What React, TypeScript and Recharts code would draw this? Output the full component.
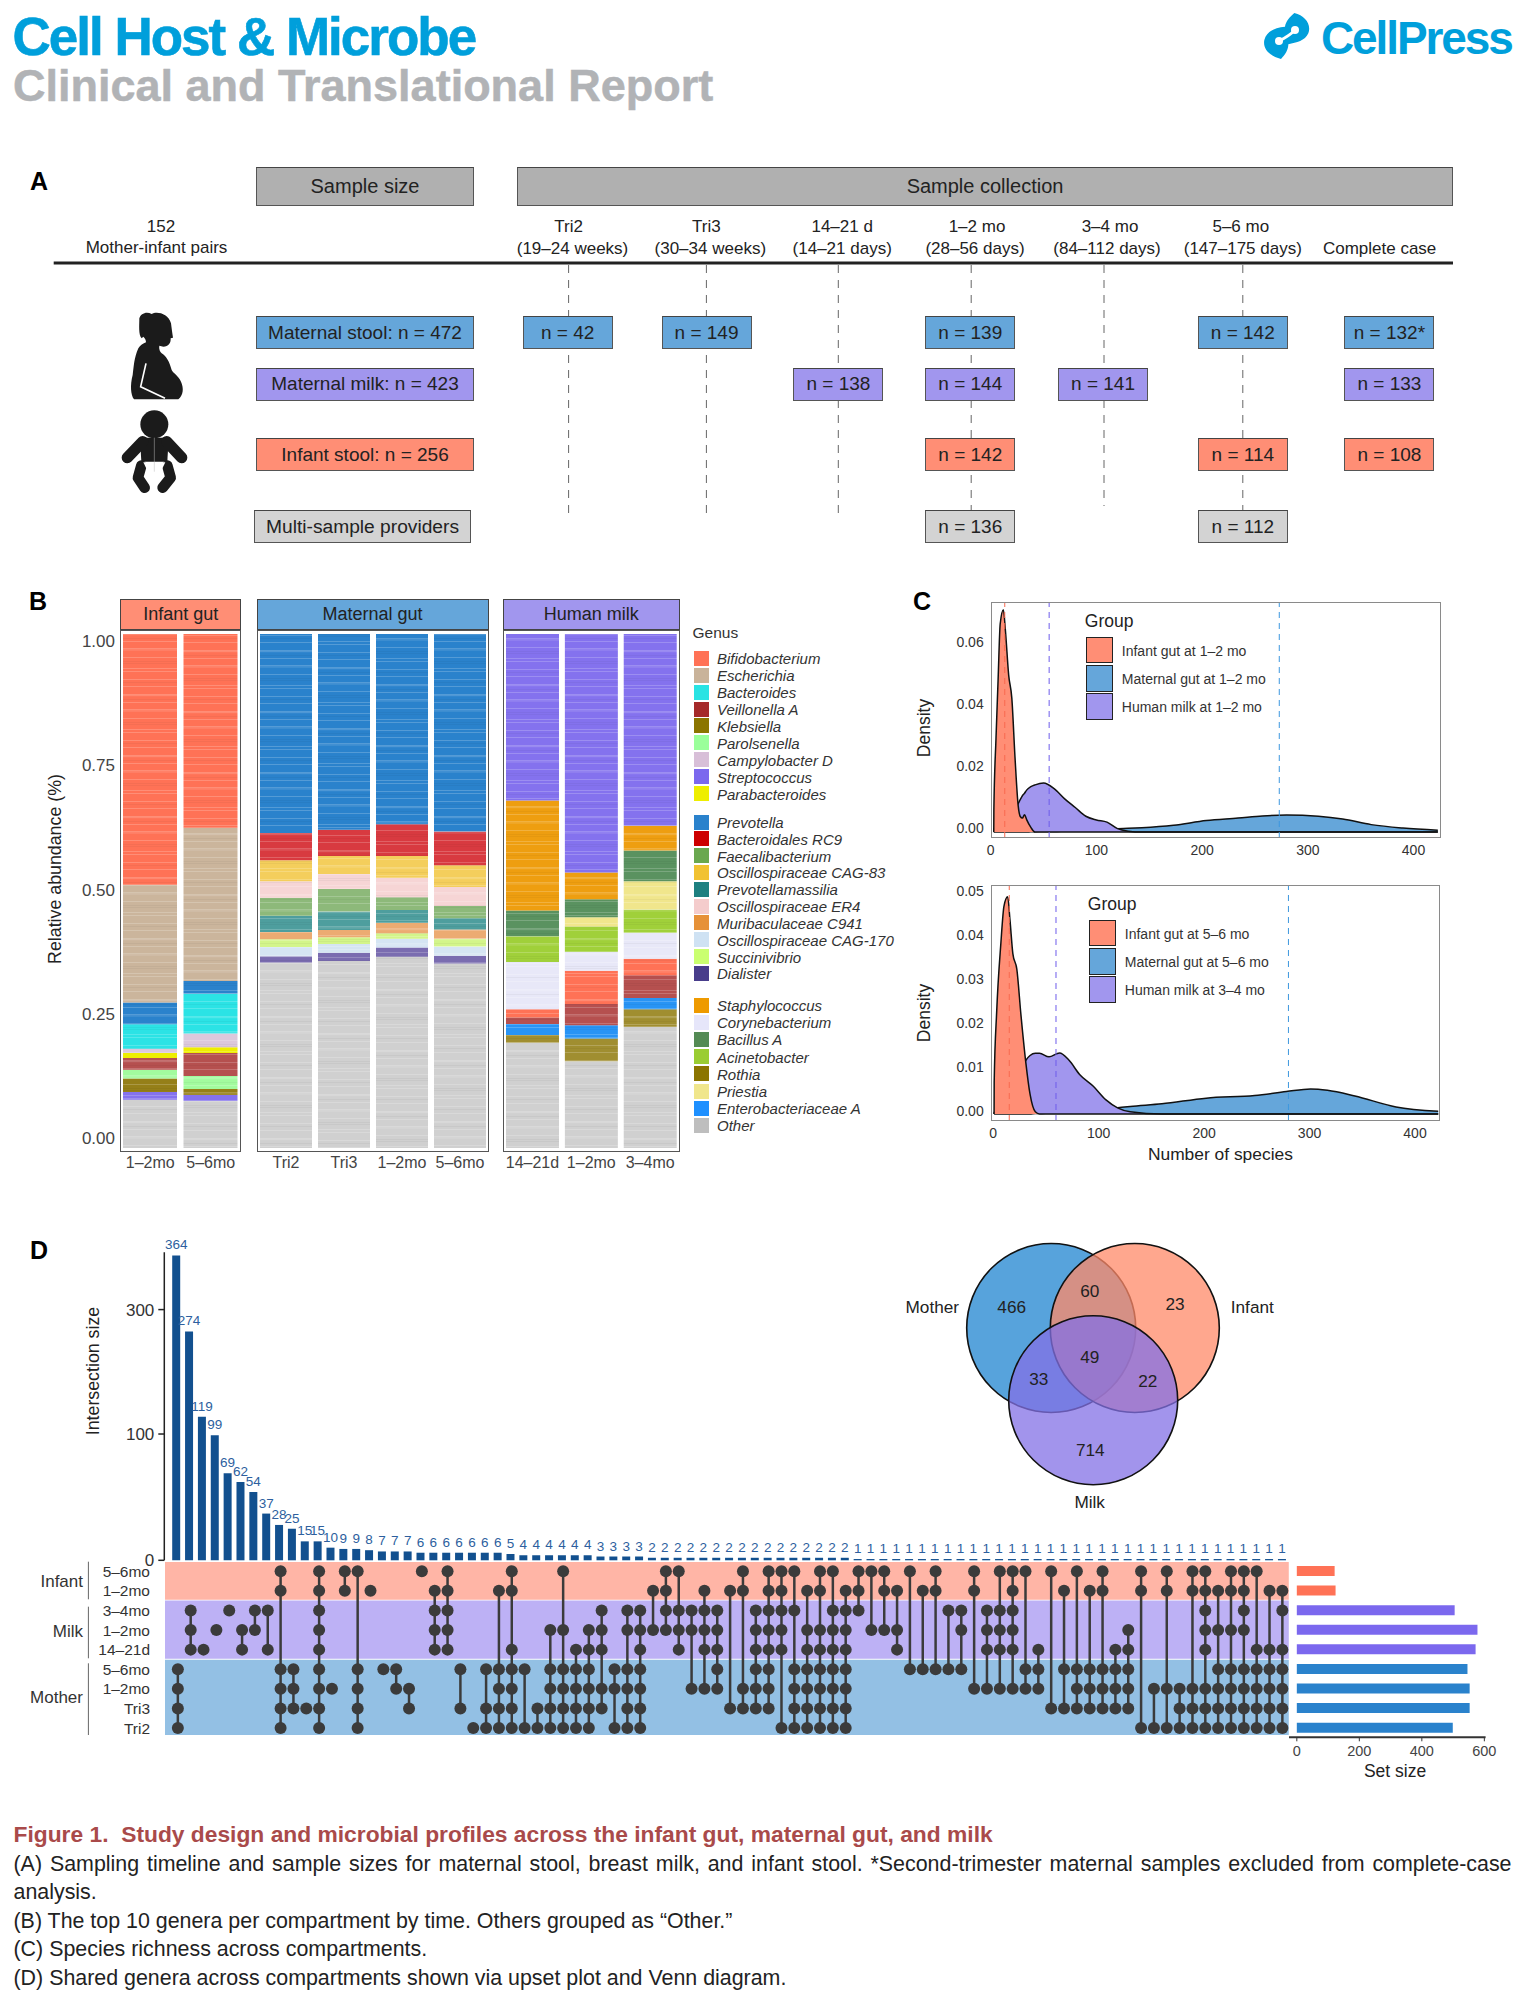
import React from "react";
import {
  Area,
  Bar,
  BarChart,
  Cell,
  ComposedChart,
  LabelList,
  Line,
  LineChart,
  ReferenceArea,
  ReferenceLine,
  Scatter,
  ScatterChart,
  XAxis,
  YAxis,
} from "recharts";

const FONT = '"Liberation Sans", Arial, sans-serif';
const CORAL = "#FF8E75";
const BLUE = "#65A6DA";
const PURPLE = "#A196EE";
const GREY_BOX = "#D3D3D3";
const HEAD_GREY = "#B0B0B0";

/* ---------- panel A ---------- */
const timeHeads = ["Tri2", "Tri3", "14–21 d", "1–2 mo", "3–4 mo", "5–6 mo"];
const timeRanges = ["(19–24 weeks)", "(30–34 weeks)", "(14–21 days)", "(28–56 days)", "(84–112 days)", "(147–175 days)"];
const leftBoxes = ["Maternal stool: n = 472", "Maternal milk: n = 423", "Infant stool: n = 256", "Multi-sample providers"];
const stoolCells = ["n = 42", "n = 149", "", "n = 139", "", "n = 142", "n = 132*"];
const milkCells = ["", "", "n = 138", "n = 144", "n = 141", "", "n = 133"];
const infantCells = ["", "", "", "n = 142", "", "n = 114", "n = 108"];
const multiCells = ["", "", "", "n = 136", "", "n = 112", ""];

/* ---------- panel B ---------- */
const genusNames = [
  "Bifidobacterium", "Escherichia", "Bacteroides", "Veillonella A", "Klebsiella", "Parolsenella", "Campylobacter D", "Streptococcus", "Parabacteroides",
  "Prevotella", "Bacteroidales RC9", "Faecalibacterium", "Oscillospiraceae CAG-83", "Prevotellamassilia", "Oscillospiraceae ER4", "Muribaculaceae C941", "Oscillospiraceae CAG-170", "Succinivibrio", "Dialister",
  "Staphylococcus", "Corynebacterium", "Bacillus A", "Acinetobacter", "Rothia", "Priestia", "Enterobacteriaceae A", "Other",
];
const genusLegendColors = [
  "#FF7256", "#C9B39A", "#29E3E3", "#A52A2A", "#8B7500", "#9AFF9A", "#D8BFD8", "#7B68EE", "#EEEE00",
  "#2A82CC", "#CD0000", "#6AA84F", "#F1C232", "#1E8080", "#F4CCCC", "#E69138", "#CFE2F3", "#CAFF70", "#483D8B",
  "#EE9A00", "#E6E6FA", "#548B54", "#9ACD32", "#8B7500", "#F0E68C", "#1E90FF", "#BEBEBE",
];
const genusBarColors = [
  "#FF7256", "#CBB59C", "#2BE3E5", "#B5504F", "#957F18", "#A2FB9E", "#DCC8DC", "#8472EE", "#EEEE00",
  "#2A82CC", "#D83A40", "#8DB97A", "#F4CE5C", "#4E9E9E", "#F6D5D5", "#ECAB72", "#D5E5F3", "#D3F58A", "#7A6CB0",
  "#EE9E10", "#E8E8F8", "#5A9260", "#A0D03A", "#A08E30", "#F0E68C", "#2894F5", "#D0D0D0",
];

const infantCats = ["1–2mo", "5–6mo"];
const infantOrder = ["Bifidobacterium", "Escherichia", "Prevotella", "Bacteroides", "Campylobacter D", "Parabacteroides", "Veillonella A", "Parolsenella", "Klebsiella", "Streptococcus", "Other"];
const infantCols = [
  [0.488, 0.229, 0.042, 0.048, 0.008, 0.01, 0.023, 0.017, 0.026, 0.015, 0.094],
  [0.377, 0.298, 0.025, 0.077, 0.027, 0.011, 0.045, 0.025, 0.012, 0.011, 0.092],
];

const maternalCats = ["Tri2", "Tri3", "1–2mo", "5–6mo"];
const maternalOrder = ["Prevotella", "Bacteroidales RC9", "Oscillospiraceae CAG-83", "Oscillospiraceae ER4", "Faecalibacterium", "Prevotellamassilia", "Muribaculaceae C941", "Succinivibrio", "Oscillospiraceae CAG-170", "Dialister", "Other"];
const maternalCols = [
  [0.387, 0.053, 0.041, 0.032, 0.035, 0.032, 0.014, 0.015, 0.018, 0.012, 0.361],
  [0.381, 0.051, 0.035, 0.029, 0.044, 0.036, 0.014, 0.013, 0.017, 0.016, 0.364],
  [0.37, 0.062, 0.042, 0.038, 0.025, 0.025, 0.02, 0.011, 0.017, 0.018, 0.372],
  [0.384, 0.066, 0.042, 0.037, 0.024, 0.022, 0.018, 0.015, 0.018, 0.015, 0.359],
];

const milkCats = ["14–21d", "1–2mo", "3–4mo"];
const milkOrder = ["Streptococcus", "Staphylococcus", "Bacillus A", "Priestia", "Acinetobacter", "Corynebacterium", "Bifidobacterium", "Veillonella A", "Enterobacteriaceae A", "Rothia", "Other"];
const milkCols = [
  [0.324, 0.214, 0.05, 0, 0.05, 0.092, 0.016, 0.013, 0.021, 0.015, 0.205],
  [0.464, 0.052, 0.035, 0.018, 0.049, 0.037, 0.065, 0.041, 0.026, 0.044, 0.169],
  [0.373, 0.048, 0.06, 0.055, 0.045, 0.051, 0.032, 0.044, 0.022, 0.034, 0.236],
];

const abundanceTicks = [0, 0.25, 0.5, 0.75, 1];
const abundanceAxisRows = [{ v: 0 }, { v: 1 }];
const streakLight = [3, 4.4, 11, 18, 19.6, 27, 38, 41, 49, 56];
const streakDark = [8, 31, 33, 52];

/* ---------- panel C ---------- */
const speciesTop = [2.9, 3, 5, 7, 9, 12, 14, 17, 20, 23, 26, 28, 30, 32, 34, 38, 42, 50, 60, 70, 80, 90, 100, 110, 120, 130, 143, 173, 204, 234, 257, 280, 310, 333, 360, 390, 423];
const infantDensityTop = [0, 0.0072, 0.03, 0.049, 0.067, 0.0715, 0.0645, 0.0505, 0.043, 0.024, 0.0085, 0.005, 0.0045, 0.0056, 0.004, 0.0015, 0, 0, 0, 0, 0, 0, 0, 0, 0, 0, 0, 0, 0, 0, 0, 0, 0, 0, 0, 0, 0];
const milkDensityTop = [0, 0.0005, 0.001, 0.0015, 0.002, 0.003, 0.004, 0.005, 0.0065, 0.008, 0.0092, 0.0105, 0.0117, 0.0125, 0.0135, 0.0146, 0.0152, 0.0158, 0.014, 0.0107, 0.0079, 0.0051, 0.0039, 0.0032, 0.0011, 0.0003, 0, 0, 0, 0, 0, 0, 0, 0, 0, 0, 0];
const maternalDensityTop = [0, 0, 0, 0, 0, 0, 0, 0, 0, 0, 0, 0, 0, 0, 0, 0.0001, 0.0001, 0.0002, 0.0002, 0.0003, 0.0004, 0.0005, 0.0007, 0.0009, 0.0011, 0.0012, 0.0014, 0.0022, 0.0037, 0.0045, 0.0052, 0.0055, 0.0051, 0.0042, 0.0024, 0.0013, 0.0006];
const mediansTop = [13.3, 55.3, 273];

const speciesBottom = [0.9, 1, 3.4, 7.3, 10.3, 13.8, 16, 18.7, 22.5, 26.4, 31, 35, 40, 44, 53, 63, 72, 82, 95, 107, 118, 130, 160, 202, 248, 278, 301, 317, 343, 382, 422];
const infantDensityBottom = [0, 0.0072, 0.0234, 0.0387, 0.0473, 0.0494, 0.0441, 0.0365, 0.0329, 0.0225, 0.0117, 0.0045, 0.0005, 0, 0, 0, 0, 0, 0, 0, 0, 0, 0, 0, 0, 0, 0, 0, 0, 0, 0];
const milkDensityBottom = [0, 0.0003, 0.001, 0.002, 0.003, 0.004, 0.005, 0.006, 0.0075, 0.0095, 0.0122, 0.0133, 0.0138, 0.0138, 0.013, 0.0139, 0.0122, 0.009, 0.0063, 0.0032, 0.0014, 0.0005, 0, 0, 0, 0, 0, 0, 0, 0, 0];
const maternalDensityBottom = [0, 0, 0, 0, 0, 0, 0, 0, 0, 0, 0, 0, 0.0001, 0.0001, 0.0002, 0.0003, 0.0004, 0.0005, 0.0007, 0.001, 0.0014, 0.0017, 0.0023, 0.0036, 0.0042, 0.0051, 0.0057, 0.0054, 0.0041, 0.0016, 0.0006];
const mediansBottom = [15.3, 59.6, 280];

const speciesTicks = [0, 100, 200, 300, 400];
const densityTicksTop = [0, 0.02, 0.04, 0.06];
const densityTicksBottom = [0, 0.01, 0.02, 0.03, 0.04, 0.05];
const groupNamesTop = ["Infant gut at 1–2 mo", "Maternal gut at 1–2 mo", "Human milk at 1–2 mo"];
const groupNamesBottom = ["Infant gut at 5–6 mo", "Maternal gut at 5–6 mo", "Human milk at 3–4 mo"];

/* ---------- panel D ---------- */
const intersectionSizes = [
  364, 274, 119, 99, 69, 62, 54, 37, 28, 25, 15, 15, 10, 9, 9, 8, 7, 7, 7, 6, 6, 6, 6, 6, 6, 6, 5, 4, 4, 4, 4, 4, 4, 3, 3, 3, 3,
  2, 2, 2, 2, 2, 2, 2, 2, 2, 2, 2, 2, 2, 2, 2, 2,
  1, 1, 1, 1, 1, 1, 1, 1, 1, 1, 1, 1, 1, 1, 1, 1, 1, 1, 1, 1, 1, 1, 1, 1, 1, 1, 1, 1, 1, 1, 1, 1, 1, 1,
];
// rows that take part in each intersection, digits count from the top row
const columnRows = [
  "5678", "234", "4", "3", "2", "34", "23", "24", "015678", "567", "7", "012345678", "6", "01", "05678", "1", "5", "56", "67", "0",
  "1234", "01234", "57", "8", "578", "15678", "0145678", "58", "78", "35678", "035678", "45678", "345678", "23467", "568", "235678", "2345678",
  "13", "0123", "0234", "236", "12346", "23456", "17", "0167", "234567", "01234567", "012348", "025678", "1345678", "01345678", "02345678", "12345678",
  "012", "03", "013", "134", "05", "15", "015", "25", "235", "016", "2346", "02346", "012346", "056", "456", "07", "157", "0567", "1567", "01567", "4567", "34567",
  "018", "68", "0168", "678", "01678", "01234678", "135678", "0135678", "01235678", "045678", "145678", "1245678",
];
const rowNames = ["5–6mo", "1–2mo", "3–4mo", "1–2mo", "14–21d", "5–6mo", "1–2mo", "Tri3", "Tri2"];
const setSizes = [121, 124, 505, 578, 572, 546, 553, 553, 499];
const setColors = ["#FF7256", "#FF7256", "#7B68EE", "#7B68EE", "#7B68EE", "#2A82CC", "#2A82CC", "#2A82CC", "#2A82CC"];
const sizeTicks = [0, 200, 400, 600];
// the printed axis is not linear: value to share of axis height
const sizeKnotValues = [0, 100, 119, 274, 300, 364, 368];
const sizeKnotShares = [0, 0.41, 0.466, 0.743, 0.814, 0.99, 1];

const vennCircles = [
  { name: "Mother", x: 1051.2, y: 1328, fill: "#57A3DC", alpha: 1 },
  { name: "Infant", x: 1134.8, y: 1328, fill: "#FF8A68", alpha: 0.75 },
  { name: "Milk", x: 1093.2, y: 1400.3, fill: "#8370E6", alpha: 0.75 },
];
const vennCounts = [
  { text: "466", x: 1011.7, y: 1307.3 },
  { text: "60", x: 1089.7, y: 1290.7 },
  { text: "23", x: 1175, y: 1304 },
  { text: "33", x: 1038.7, y: 1379.3 },
  { text: "49", x: 1089.7, y: 1357 },
  { text: "22", x: 1147.7, y: 1381 },
  { text: "714", x: 1090.3, y: 1449.7 },
  { text: "Mother", x: 932.3, y: 1307.3 },
  { text: "Infant", x: 1252.3, y: 1307.3 },
  { text: "Milk", x: 1089.7, y: 1501.7 },
];

/* ---------- helpers ---------- */
function Txt({ x, y, size = 16, anchor = "middle", color = "#222", weight = 400, italic = false, spacing = 0, rotate = 0, stroke = 0, children }: any) {
  const tx = anchor === "middle" ? "-50%" : anchor === "end" ? "-100%" : "0";
  return (
    <div
      style={{
        position: "absolute",
        left: x,
        top: y,
        fontSize: size,
        color,
        fontWeight: weight,
        fontStyle: italic ? "italic" : "normal",
        letterSpacing: spacing,
        whiteSpace: "nowrap",
        lineHeight: 1,
        WebkitTextStroke: stroke ? `${stroke}px ${color}` : undefined,
        transform: `translate(${tx}, -50%) rotate(${rotate}deg)`,
      }}
    >
      {children}
    </div>
  );
}

function Box({ x, y, w, h, fill, children, size = 19 }: any) {
  return (
    <div
      style={{
        position: "absolute",
        left: x,
        top: y,
        width: w,
        height: h,
        boxSizing: "border-box",
        background: fill,
        border: "1px solid #555",
        borderTop: "1.5px solid #444",
        display: "flex",
        alignItems: "center",
        justifyContent: "center",
        fontSize: size,
        color: "#222",
        whiteSpace: "nowrap",
      }}
    >
      {children}
    </div>
  );
}

function knotScale(knots: number[], shares: number[]) {
  let dom = [0, 1];
  let rng = [0, 1];
  const s: any = (v: number) => {
    let i = 0;
    while (i < knots.length - 2 && v > knots[i + 1]) i++;
    const t = (v - knots[i]) / (knots[i + 1] - knots[i]);
    const share = shares[i] + t * (shares[i + 1] - shares[i]);
    return rng[0] + share * (rng[1] - rng[0]);
  };
  s.domain = (d?: number[]) => {
    if (d) {
      dom = d;
      return s;
    }
    return dom;
  };
  s.range = (r?: number[]) => {
    if (r) {
      rng = r;
      return s;
    }
    return rng;
  };
  s.copy = () => knotScale(knots, shares).domain(dom).range(rng);
  s.ticks = () => knots;
  return s;
}

function StreakPatterns() {
  return (
    <svg style={{ position: "absolute", width: 0, height: 0 }}>
      <defs>
        {genusBarColors.map((color, g) =>
          [0, 1, 2, 3].map((v) => (
            <pattern key={`${g}-${v}`} id={`streak-${g}-${v}`} width={6} height={61} patternUnits="userSpaceOnUse" patternTransform={`translate(0 ${v * 17})`}>
              <rect width={6} height={61} fill={color} />
              {streakLight.map((o) => (
                <rect key={o} y={o} width={6} height={0.7} fill="#fff" opacity={0.28} />
              ))}
              {streakDark.map((o) => (
                <rect key={o} y={o} width={6} height={1} fill="#000" opacity={0.04} />
              ))}
            </pattern>
          ))
        )}
      </defs>
    </svg>
  );
}

function Facet({ title, color, x, w, barW, cats, order, cols }: any) {
  const rows = cats.map((cat: string, i: number) => {
    const row: any = { cat };
    order.forEach((g: string, j: number) => {
      row[g] = cols[i][j];
    });
    return row;
  });
  return (
    <>
      <div style={{ position: "absolute", left: x, top: 599, width: w, height: 31, boxSizing: "border-box", background: color, border: "1.5px solid #444", display: "flex", alignItems: "center", justifyContent: "center", fontSize: 18, color: "#222" }}>
        {title}
      </div>
      <div style={{ position: "absolute", left: x, top: 630 }}>
        <BarChart width={w} height={552} data={rows} margin={{ top: 4, right: 0, left: 0, bottom: 4 }} barSize={barW}>
          <XAxis dataKey="cat" height={30} axisLine={false} tickLine={false} tickSize={0} tickMargin={9} interval={0} tick={{ fill: "#444", fontSize: 16 }} />
          <YAxis hide type="number" domain={[0, 1]} allowDataOverflow />
          {[...order].reverse().map((g: string) => (
            <Bar key={g} dataKey={g} stackId="a" isAnimationActive={false}>
              {rows.map((_: any, i: number) => (
                <Cell key={i} fill={`url(#streak-${genusNames.indexOf(g)}-${(i + Math.round(x)) % 4})`} />
              ))}
            </Bar>
          ))}
        </BarChart>
      </div>
      <div style={{ position: "absolute", left: x, top: 630, width: w, height: 522, boxSizing: "border-box", border: "1.5px solid #555", pointerEvents: "none" }} />
    </>
  );
}

function GenusLegend({ from, to, y, step }: any) {
  return (
    <>
      {genusNames.slice(from, to).map((name, i) => (
        <React.Fragment key={name}>
          <div style={{ position: "absolute", left: 693.6, top: y + i * step - 7.5, width: 15, height: 15, background: genusLegendColors[from + i] }} />
          <Txt x={717} y={y + i * step} size={15} anchor="start" italic color="#333">{name}</Txt>
        </React.Fragment>
      ))}
    </>
  );
}

const densityTick = (shift: number) => (p: any) => (
  <text x={p.x} y={p.y - shift} dy="0.355em" textAnchor="end" fontSize={14} fill="#333">
    {Number(p.payload.value).toFixed(2)}
  </text>
);

function DensityChart({ top, right, xDomain, yDomain, xs, infant, milk, maternal, medians, yTicks, shift }: any) {
  const rows = xs.map((x: number, i: number) => ({ x, infant: infant[i], milk: milk[i], maternal: maternal[i] }));
  const width = right - 920;
  return (
    <>
      <div style={{ position: "absolute", left: 920, top }}>
        <ComposedChart width={width} height={266} data={rows} margin={{ top: 0, right: 0, bottom: 0, left: 0 }}>
          <XAxis dataKey="x" type="number" domain={xDomain} ticks={speciesTicks} allowDataOverflow height={30} axisLine={false} tickLine={false} tickSize={0} tickMargin={7} tick={{ fill: "#333", fontSize: 14 }} />
          <YAxis type="number" domain={yDomain} ticks={yTicks} allowDataOverflow width={70.7} axisLine={false} tickLine={false} tickSize={0} tickMargin={7} interval={0} tick={densityTick(shift)} />
          <Area dataKey="maternal" type="monotone" baseValue={0} fill={BLUE} fillOpacity={1} stroke="#111" strokeWidth={1.5} dot={false} activeDot={false} isAnimationActive={false} />
          <Area dataKey="milk" type="monotone" baseValue={0} fill={PURPLE} fillOpacity={1} stroke="#111" strokeWidth={1.5} dot={false} activeDot={false} isAnimationActive={false} />
          <Area dataKey="infant" type="monotone" baseValue={0} fill={CORAL} fillOpacity={1} stroke="#111" strokeWidth={1.5} dot={false} activeDot={false} isAnimationActive={false} />
          <ReferenceLine x={medians[0]} stroke="#F8694F" strokeDasharray="6 5" strokeWidth={1} />
          <ReferenceLine x={medians[1]} stroke="#6E5CEB" strokeDasharray="6 5" strokeWidth={1} />
          <ReferenceLine x={medians[2]} stroke="#3D97DF" strokeDasharray="6 5" strokeWidth={1} />
        </ComposedChart>
      </div>
      <div style={{ position: "absolute", left: 990.7, top, width: right - 990.7, height: 236, boxSizing: "border-box", border: "1.5px solid #8a8a8a", pointerEvents: "none" }} />
    </>
  );
}

function GroupLegend({ x, titleY, ys, names, textYs }: any) {
  const fills = [CORAL, BLUE, PURPLE];
  return (
    <>
      <Txt x={x} y={titleY} size={17.5} anchor="start">Group</Txt>
      {names.map((name: string, i: number) => (
        <React.Fragment key={name}>
          <div style={{ position: "absolute", left: x + 1, top: ys[i], width: 27, height: 26.5, boxSizing: "border-box", background: fills[i], border: "1.8px solid #222" }} />
          <Txt x={x + 37} y={textYs[i]} size={14} anchor="start" color="#333">{name}</Txt>
        </React.Fragment>
      ))}
    </>
  );
}

const vennCircleShape = (p: any) => (
  <circle cx={p.cx} cy={p.cy} r={84.5} fill={p.payload.fill} fillOpacity={p.payload.alpha} stroke="#111" strokeWidth={1.6} />
);
const vennTextShape = (p: any) => (
  <text x={p.cx} y={p.cy} dy="0.355em" textAnchor="middle" fontSize={17.2} fill="#222">
    {p.payload.text}
  </text>
);
const matrixDot = (p: any) => <circle cx={p.cx} cy={p.cy} r={6} fill="#3B3B3B" />;

export default function App() {
  const barRows = intersectionSizes.map((size, i) => ({ col: i, size }));
  const setRows = setSizes.map((size, i) => ({ row: i, size }));
  const dashX = [568.6, 706.4, 838.3, 971.2, 1104, 1242.8];
  const dashEnd = [516, 516, 516, 510, 506, 510];
  const headX = [568.6, 706.4, 842.2, 977, 1110, 1240.8];
  const rangeX = [572.5, 710.3, 842.2, 975, 1107, 1242.8];
  const cellX = [522.7, 661.5, 793.4, 925.3, 1058, 1197.8, 1344.4];

  const cellRow = (cells: string[], y: number, fill: string) =>
    cells.map((c, i) => c && <Box key={i} x={cellX[i]} y={y} w={90} h={33} fill={fill}>{c}</Box>);

  return (
    <div style={{ position: "absolute", left: 0, top: 0, width: 1532, height: 2000, overflow: "hidden", background: "#fff", fontFamily: FONT }}>
      <StreakPatterns />

      {/* masthead */}
      <Txt x={12.5} y={36} size={53} anchor="start" color="#009FDB" weight={700} spacing={-2} stroke={0.6}>Cell Host &amp; Microbe</Txt>
      <Txt x={13} y={85} size={45} anchor="start" color="#B1B3B6" weight={700} stroke={0.5}>Clinical and Translational Report</Txt>
      <Txt x={1321} y={38} size={46} anchor="start" color="#009FDB" weight={700} spacing={-2.1}>CellPress</Txt>
      <svg style={{ position: "absolute", left: 1255, top: 5, width: 70, height: 60 }} viewBox="0 0 210 180">
        <path d="M118,24 C150,32 170,58 160,85 C150,108 125,112 100,118 C100,135 90,150 78,162 C50,155 22,135 28,105 C35,78 60,68 90,65 C92,50 105,35 118,24 Z" fill="#009FDB" />
        <path d="M72,108 C88,100 104,92 120,75" fill="none" stroke="#fff" strokeWidth={8} />
        <circle cx={72} cy={108} r={12} fill="#fff" />
        <circle cx={120} cy={75} r={12} fill="#fff" />
      </svg>

      {/* panel A */}
      <Txt x={39} y={181} size={25} weight={700} color="#000">A</Txt>
      <Box x={256} y={167} w={218} h={39} fill={HEAD_GREY} size={20}>Sample size</Box>
      <Box x={517} y={167} w={936} h={39} fill={HEAD_GREY} size={20}>Sample collection</Box>
      <Txt x={161} y={226} size={17}>152</Txt>
      <Txt x={156.5} y={247} size={17}>Mother-infant pairs</Txt>
      {timeHeads.map((t, i) => (
        <React.Fragment key={t}>
          <Txt x={headX[i]} y={226} size={17}>{t}</Txt>
          <Txt x={rangeX[i]} y={247.5} size={17}>{timeRanges[i]}</Txt>
        </React.Fragment>
      ))}
      <Txt x={1379.6} y={247.5} size={17}>Complete case</Txt>
      <svg style={{ position: "absolute", left: 0, top: 0, width: 1532, height: 560 }}>
        <line x1={53.7} x2={1453} y1={263} y2={263} stroke="#222" strokeWidth={3} />
        {dashX.map((x, i) => (
          <line key={x} x1={x} x2={x} y1={265} y2={dashEnd[i]} stroke="#666" strokeWidth={1} strokeDasharray="8 7" />
        ))}
      </svg>
      <svg style={{ position: "absolute", left: 110, top: 305, width: 90, height: 195 }} viewBox="0 0 270 585">
        <path d="M88,40 C92,25 110,18 125,27 C140,18 175,25 183,55 C185,70 187,85 189,98 L182,100 C183,115 175,125 160,125 L148,122 C146,132 150,140 155,145 C170,155 178,170 185,195 C190,205 205,212 213,230 C222,250 220,270 205,283 L72,283 C62,270 60,240 68,210 C72,180 72,160 85,130 C90,122 100,115 108,112 C108,105 105,100 100,95 L95,100 C85,90 88,60 88,40 Z" fill="#1b1b1b" />
        <path d="M108,175 L92,245 L165,280" fill="none" stroke="#fff" strokeWidth={5} />
        <circle cx={133} cy={358} r={42} fill="#1b1b1b" />
        <path d="M90,398 L176,398 L172,470 L94,470 Z" fill="#1b1b1b" />
        <path d="M98,410 L52,458 M170,410 L215,458" stroke="#1b1b1b" strokeWidth={34} strokeLinecap="round" />
        <path d="M94,482 L84,518 L104,548 M172,482 L182,518 L158,548" fill="none" stroke="#1b1b1b" strokeWidth={32} strokeLinecap="round" strokeLinejoin="round" />
        <path d="M100,472 L166,472 L150,505 L116,505 Z" fill="#fff" />
        <line x1={133} x2={133} y1={398} y2={500} stroke="#bbb" strokeWidth={1.5} />
      </svg>
      <Box x={256} y={316} w={218} h={33} fill={BLUE}>{leftBoxes[0]}</Box>
      <Box x={256} y={367.5} w={218} h={33} fill={PURPLE}>{leftBoxes[1]}</Box>
      <Box x={256} y={438} w={218} h={33} fill={CORAL}>{leftBoxes[2]}</Box>
      <Box x={254} y={510} w={217} h={33} fill={GREY_BOX} size={19.2}>{leftBoxes[3]}</Box>
      {cellRow(stoolCells, 316, BLUE)}
      {cellRow(milkCells, 367.5, PURPLE)}
      {cellRow(infantCells, 438, CORAL)}
      {cellRow(multiCells, 510, GREY_BOX)}

      {/* panel B */}
      <Txt x={38} y={601} size={25} weight={700} color="#000">B</Txt>
      <Txt x={56} y={868.5} size={17.8} rotate={-90}>Relative abundance (%)</Txt>
      <div style={{ position: "absolute", left: 0, top: 629.3 }}>
        <LineChart width={121} height={521.4} data={abundanceAxisRows} margin={{ top: 12, right: 6, bottom: 12, left: 0 }}>
          <XAxis hide dataKey="v" />
          <YAxis type="number" domain={[0, 1]} ticks={abundanceTicks} width={115} axisLine={false} tickLine={false} tickSize={0} tickMargin={0} interval={0} tickFormatter={(v: number) => v.toFixed(2)} tick={{ fill: "#444", fontSize: 17 }} />
          <Line dataKey="v" stroke="none" dot={false} activeDot={false} isAnimationActive={false} />
        </LineChart>
      </div>
      <Facet title="Infant gut" color={CORAL} x={120.3} w={121} barW={54} cats={infantCats} order={infantOrder} cols={infantCols} />
      <Facet title="Maternal gut" color={BLUE} x={256.5} w={232} barW={52} cats={maternalCats} order={maternalOrder} cols={maternalCols} />
      <Facet title="Human milk" color={PURPLE} x={503} w={176.6} barW={53} cats={milkCats} order={milkOrder} cols={milkCols} />
      <Txt x={692.5} y={633} size={15.5} anchor="start" color="#333">Genus</Txt>
      <GenusLegend from={0} to={9} y={658.3} step={16.9} />
      <GenusLegend from={9} to={19} y={822} step={16.83} />
      <GenusLegend from={19} to={27} y={1005} step={17.2} />

      {/* panel C */}
      <Txt x={922} y={601} size={25} weight={700} color="#000">C</Txt>
      <Txt x={925} y={728} size={17.5} rotate={-90}>Density</Txt>
      <Txt x={925} y={1013} size={17.5} rotate={-90}>Density</Txt>
      <DensityChart top={601.7} right={1441} xDomain={[0, 426]} yDomain={[-0.0019, 0.074]} xs={speciesTop} infant={infantDensityTop} milk={milkDensityTop} maternal={maternalDensityTop} medians={mediansTop} yTicks={densityTicksTop} shift={4} />
      <DensityChart top={885.3} right={1440} xDomain={[-2.3, 423.7]} yDomain={[-0.0016, 0.0521]} xs={speciesBottom} infant={infantDensityBottom} milk={milkDensityBottom} maternal={maternalDensityBottom} medians={mediansBottom} yTicks={densityTicksBottom} shift={3.2} />
      <GroupLegend x={1084.8} titleY={622} ys={[636.5, 665, 693]} names={groupNamesTop} textYs={[651, 679, 707]} />
      <GroupLegend x={1087.8} titleY={905} ys={[919.5, 948, 976]} names={groupNamesBottom} textYs={[934.3, 962, 989.6]} />
      <Txt x={1220.4} y={1155} size={17.4}>Number of species</Txt>

      {/* panel D */}
      <Txt x={39} y={1250} size={25} weight={700} color="#000">D</Txt>
      <Txt x={94.4} y={1371} size={17.8} rotate={-90}>Intersection size</Txt>
      <div style={{ position: "absolute", left: 0, top: 1240 }}>
        <BarChart width={1289} height={335} data={barRows} margin={{ top: 12.3, right: 0.2, bottom: 14.7, left: 0 }} barSize={8}>
          <XAxis dataKey="col" hide padding={{ left: 5.9, right: 0 }} />
          <YAxis type="number" domain={[0, 368]} scale={knotScale(sizeKnotValues, sizeKnotShares)} ticks={[0, 100, 300]} interval={0} width={164.3} tickSize={6} tickMargin={4} axisLine={{ stroke: "#222", strokeWidth: 1.5 }} tickLine={{ stroke: "#222", strokeWidth: 1.5 }} tick={{ fill: "#333", fontSize: 17 }} />
          <Bar dataKey="size" fill="#12508F" isAnimationActive={false}>
            <LabelList dataKey="size" position="top" offset={6} fontSize={13.5} fill="#2D5F9E" />
          </Bar>
        </BarChart>
      </div>
      <Txt x={83} y={1580.7} size={17} anchor="end" color="#333">Infant</Txt>
      <Txt x={83} y={1630.7} size={17} anchor="end" color="#333">Milk</Txt>
      <Txt x={83} y={1696.7} size={17} anchor="end" color="#333">Mother</Txt>
      <svg style={{ position: "absolute", left: 85, top: 1555, width: 8, height: 190 }}>
        <line x1={3.4} x2={3.4} y1={6.7} y2={44.3} stroke="#666" strokeWidth={1} />
        <line x1={3.4} x2={3.4} y1={51.7} y2={103.3} stroke="#666" strokeWidth={1} />
        <line x1={3.4} x2={3.4} y1={108.3} y2={180} stroke="#666" strokeWidth={1} />
      </svg>
      <div style={{ position: "absolute", left: 0, top: 1561.7 }}>
        <ScatterChart width={1288.8} height={173.3} margin={{ top: 0, right: 0, bottom: 0, left: 0 }}>
          <XAxis type="number" dataKey="x" hide domain={[-1, 86.5]} />
          <YAxis type="number" dataKey="y" domain={[-0.37, 8.47]} ticks={[0, 1, 2, 3, 4, 5, 6, 7, 8]} interval={0} width={165} axisLine={false} tickLine={false} tickSize={0} tickMargin={15} tickFormatter={(v: number) => rowNames[8 - v]} tick={{ fill: "#333", fontSize: 15.5 }} />
          <ReferenceArea y1={6.55} y2={8.47} fill="#FFB5A6" fillOpacity={1} stroke="none" />
          <ReferenceArea y1={3.54} y2={6.5} fill="#BDB1F5" fillOpacity={1} stroke="none" />
          <ReferenceArea y1={-0.37} y2={3.49} fill="#93C0E4" fillOpacity={1} stroke="none" />
          {columnRows.map((digits, col) => (
            <Scatter
              key={col}
              data={digits.split("").map((d) => ({ x: col, y: 8 - Number(d) }))}
              line={{ stroke: "#3B3B3B", strokeWidth: 2.5 }}
              lineType="joint"
              shape={matrixDot}
              isAnimationActive={false}
            />
          ))}
        </ScatterChart>
      </div>
      <div style={{ position: "absolute", left: 1289.4, top: 1561.2 }}>
        <BarChart width={218} height={206.3} data={setRows} layout="vertical" margin={{ top: 0, right: 21.4, bottom: 0, left: 0 }} barSize={10}>
          <XAxis type="number" domain={[-25, 604]} ticks={sizeTicks} interval={0} height={30} tickSize={4} tickMargin={4} axisLine={{ stroke: "#333", strokeWidth: 2 }} tickLine={{ stroke: "#333" }} tick={{ fill: "#444", fontSize: 14.5 }} />
          <YAxis type="category" dataKey="row" hide />
          <Bar dataKey="size" isAnimationActive={false}>
            {setRows.map((_, i) => (
              <Cell key={i} fill={setColors[i]} />
            ))}
          </Bar>
        </BarChart>
      </div>
      <Txt x={1395} y={1771.7} size={17.5}>Set size</Txt>

      <div style={{ position: "absolute", left: 900, top: 1230 }}>
        <ScatterChart width={380} height={290} margin={{ top: 0, right: 0, bottom: 0, left: 0 }}>
          <XAxis type="number" dataKey="x" hide domain={[900, 1280]} />
          <YAxis type="number" dataKey="y" hide reversed domain={[1230, 1520]} width={0} />
          {vennCircles.map((c) => (
            <Scatter key={c.name} data={[c]} shape={vennCircleShape} isAnimationActive={false} />
          ))}
          <Scatter data={vennCounts} shape={vennTextShape} isAnimationActive={false} />
        </ScatterChart>
      </div>

      {/* caption */}
      <Txt x={13.5} y={1834} size={22.8} anchor="start" weight={700} color="#A94A4A">Figure 1.&nbsp; Study design and microbial profiles across the infant gut, maternal gut, and milk</Txt>
      <div style={{ position: "absolute", left: 13.5, top: 1853, width: 1498, fontSize: 21.4, lineHeight: "22px", color: "#222", textAlign: "justify", textAlignLast: "justify", whiteSpace: "nowrap" }}>
        (A) Sampling timeline and sample sizes for maternal stool, breast milk, and infant stool. *Second-trimester maternal samples excluded from complete-case
      </div>
      <Txt x={13.5} y={1892.7} size={21.4} anchor="start">analysis.</Txt>
      <Txt x={13.5} y={1921.7} size={21.4} anchor="start">(B) The top 10 genera per compartment by time. Others grouped as “Other.”</Txt>
      <Txt x={13.5} y={1950} size={21.4} anchor="start">(C) Species richness across compartments.</Txt>
      <Txt x={13.5} y={1979.3} size={21.4} anchor="start">(D) Shared genera across compartments shown via upset plot and Venn diagram.</Txt>
    </div>
  );
}
